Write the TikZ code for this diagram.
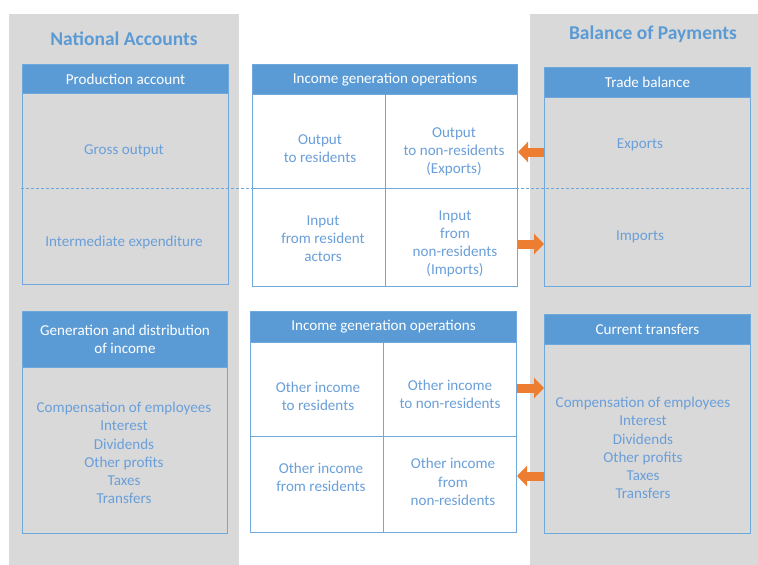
\documentclass[tikz,border=0pt]{standalone}
\usepackage{fontspec}
\setmainfont{Carlito}
\usetikzlibrary{positioning, arrows.meta}
\definecolor{hblue}{HTML}{5B9BD5}
\definecolor{tblue}{HTML}{6A9FD9}
\definecolor{lblue}{HTML}{6FA8DC}
\definecolor{panelgray}{HTML}{D9D9D9}
\definecolor{floworange}{HTML}{ED7D31}

\begin{document}
\begin{tikzpicture}[x=1pt, y=-1pt,
  every node/.style={font=\fontsize{15.1}{18.2}\selectfont, text=tblue,
    align=center, inner sep=0pt},
  title/.style={font=\fontsize{19.5}{22}\selectfont\bfseries, text=hblue},
  frame/.style={draw=lblue, line width=1pt, anchor=north west},
  head/.style={fill=hblue, draw=lblue, line width=1pt, text=white, anchor=north},
  grid/.style={draw=lblue, line width=0.8pt},
  guide/.style={draw=lblue, line width=0.8pt, dash pattern=on 3pt off 2pt},
  flow/.style={draw=floworange, line width=9pt, -{Triangle[length=10pt,width=20pt]}}]
\useasboundingbox (0,0) rectangle (758,565);
\fill[panelgray] (9,14) rectangle (239,565);
\fill[panelgray] (530,14) rectangle (758,565);
\draw[guide] (21,188) -- (750,188);

\node[title] (na) at (124,39) {National Accounts};
\node[title] (bop) at (653,34) {Balance of Payments};

\node[frame, minimum width=206, minimum height=220] (prod) at (22,64) {};
\node[head, minimum width=206, minimum height=29] (prodh) at (prod.north) {Production account};
\node[frame, fill=white, minimum width=265, minimum height=222] (igo1) at (252,64) {};
\node[head, minimum width=265, minimum height=30] (igo1h) at (igo1.north) {Income generation operations};
\node[frame, minimum width=206, minimum height=219] (tb) at (544,67) {};
\node[head, minimum width=206, minimum height=30] (tbh) at (tb.north) {Trade balance};

\node[frame, minimum width=205, minimum height=222] (gdi) at (22,311) {};
\node[head, minimum width=205, minimum height=56] (gdih) at (gdi.north) {Generation and distribution\\of income};
\node[frame, fill=white, minimum width=266, minimum height=221] (igo2) at (250,311) {};
\node[head, minimum width=266, minimum height=31] (igo2h) at (igo2.north) {Income generation operations};
\node[frame, minimum width=206, minimum height=219] (ct) at (544,314) {};
\node[head, minimum width=206, minimum height=30] (cth) at (ct.north) {Current transfers};

\draw[grid] (igo1h.south) -- (igo1.south);
\draw[grid] (igo1.west |- 0,188) -- (igo1.east |- 0,188);
\draw[grid] (igo2h.south) -- (igo2.south);
\draw[grid] (igo2.west |- 0,436) -- (igo2.east |- 0,436);

\node (grossout) at (124,151) {Gross output};
\node (interexp) at (124,242) {Intermediate expenditure};
\node (outres) at (320,149) {Output\\to residents};
\node (outnonres) at (454,152) {Output\\to non-residents\\(Exports)};
\node (inres) at (323,239) {Input\\from resident\\actors};
\node (innonres) at (455,244) {Input\\from\\non-residents\\(Imports)};
\node (exports) at (640,145) {Exports};
\node (imports) at (640,237) {Imports};

\node (gdilist) at (124,453) {Compensation of employees\\Interest\\Dividends\\Other profits\\Taxes\\Transfers};
\node (oires) at (318,396) {Other income\\to residents};
\node (oinonres) at (450,394) {Other income\\to non-residents};
\node (oifres) at (321,477) {Other income\\from residents};
\node (oifnonres) at (453,482) {Other income\\from\\non-residents};
\node (ctlist) at (643,448) {Compensation of employees\\Interest\\Dividends\\Other profits\\Taxes\\Transfers};

\coordinate (out3) at ([yshift=6pt]oinonres.east);
\coordinate (in3) at ([yshift=6pt]oifnonres.east);
\draw[flow] (tb.west |- outnonres) -- (igo1.east |- outnonres);
\draw[flow] (igo1.east |- innonres) -- (tb.west |- innonres);
\draw[flow] (igo2.east |- out3) -- (ct.west |- out3);
\draw[flow] (ct.west |- in3) -- (igo2.east |- in3);
\end{tikzpicture}
\end{document}
